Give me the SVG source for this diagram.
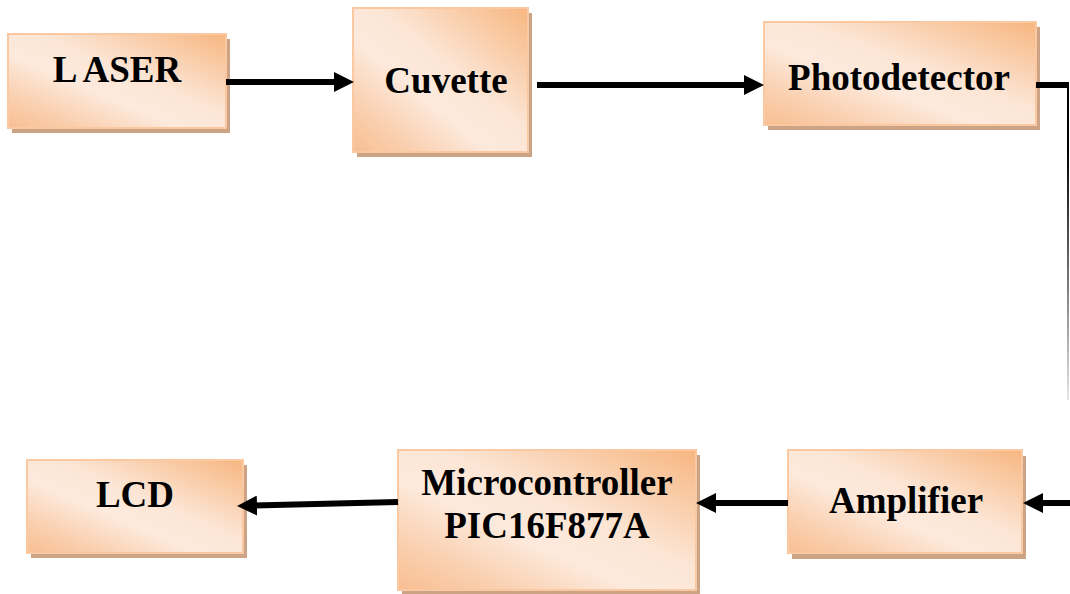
<svg xmlns="http://www.w3.org/2000/svg" width="1070" height="594" viewBox="0 0 1070 594">
  <defs>
    <linearGradient id="fill" x1="1" y1="0" x2="0" y2="1">
      <stop offset="0" stop-color="#F7B680"/>
      <stop offset="0.42" stop-color="#FCE5D4"/>
      <stop offset="0.6" stop-color="#FDEADD"/>
      <stop offset="0.82" stop-color="#FAD0B0"/>
      <stop offset="1" stop-color="#F8BE92"/>
    </linearGradient>
    <linearGradient id="fade" gradientUnits="userSpaceOnUse" x1="0" y1="150" x2="0" y2="400">
      <stop offset="0" stop-color="#000"/>
      <stop offset="1" stop-color="#000" stop-opacity="0.1"/>
    </linearGradient>
    <marker id="head" viewBox="0 0 20 20" markerUnits="userSpaceOnUse" markerWidth="20" markerHeight="20" refX="10" refY="10" orient="auto">
      <path d="M0,0 L20,10 L0,20 z" fill="#000"/>
    </marker>
    <style>
      .shadow { fill: #CDA386; }
      .box { fill: url(#fill); stroke: #FAC9A1; stroke-width: 2; }
      .label { font-family: "Liberation Serif", "Times New Roman", serif; font-weight: bold; font-size: 37px; fill: #000; text-anchor: middle; }
      .wire { stroke: #000; stroke-width: 6; fill: none; }
    </style>
  </defs>

  <g id="laser">
    <rect class="shadow" x="12" y="39" width="218" height="94"/>
    <rect class="box" x="8" y="34" width="218" height="94"/>
    <text class="label" x="117" y="82">L ASER</text>
  </g>

  <g id="cuvette">
    <rect class="shadow" x="357" y="13" width="175" height="144"/>
    <rect class="box" x="353" y="8" width="175" height="144"/>
    <text class="label" x="446" y="93">Cuvette</text>
  </g>

  <g id="photodetector">
    <rect class="shadow" x="768" y="27" width="272" height="103"/>
    <rect class="box" x="764" y="22" width="272" height="103"/>
    <text class="label" x="899" y="90">Photodetector</text>
  </g>

  <g id="lcd">
    <rect class="shadow" x="31" y="465" width="216" height="93"/>
    <rect class="box" x="27" y="460" width="216" height="93"/>
    <text class="label" x="135" y="507">LCD</text>
  </g>

  <g id="microcontroller">
    <rect class="shadow" x="402" y="455" width="298" height="140"/>
    <rect class="box" x="398" y="450" width="298" height="140"/>
    <text class="label" x="547" y="495">Microcontroller</text>
    <text class="label" x="547" y="538">PIC16F877A</text>
  </g>

  <g id="amplifier">
    <rect class="shadow" x="792" y="456" width="234" height="103"/>
    <rect class="box" x="788" y="450" width="234" height="103"/>
    <text class="label" x="906" y="513">Amplifier</text>
  </g>

  <g id="connectors">
    <line class="wire" x1="226" y1="82" x2="344" y2="82" marker-end="url(#head)"/>
    <line class="wire" x1="537" y1="85" x2="754" y2="85" marker-end="url(#head)"/>
    <line class="wire" x1="1036" y1="85" x2="1069" y2="85"/>
    <line x1="1068" y1="84" x2="1068" y2="400" stroke="url(#fade)" stroke-width="2"/>
    <line class="wire" x1="1070" y1="503" x2="1033" y2="503" marker-end="url(#head)"/>
    <line class="wire" x1="788" y1="503" x2="706" y2="503" marker-end="url(#head)"/>
    <line class="wire" x1="398" y1="502" x2="247" y2="505.8" marker-end="url(#head)"/>
  </g>
</svg>
